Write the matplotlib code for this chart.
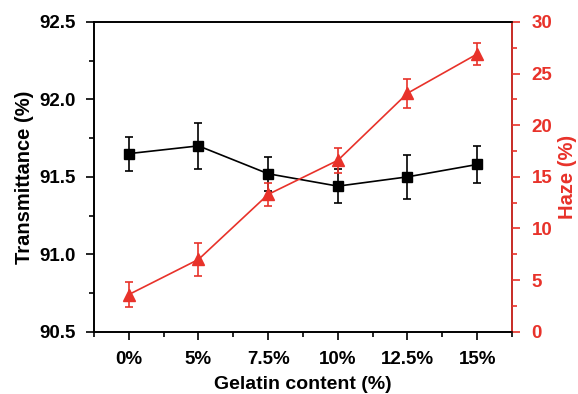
import matplotlib
matplotlib.use("Agg")
import matplotlib.pyplot as plt
from matplotlib.ticker import MultipleLocator

plt.rcParams['font.family'] = ['Liberation Sans', 'DejaVu Sans']
plt.rcParams['font.weight'] = 'bold'

categories = ['0%', '5%', '7.5%', '10%', '12.5%', '15%']
transmittance = [91.65, 91.70, 91.52, 91.44, 91.50, 91.58]
trans_err = [0.11, 0.15, 0.11, 0.11, 0.14, 0.12]
haze = [3.6, 7.0, 13.3, 16.6, 23.1, 26.9]
haze_err = [1.2, 1.6, 1.15, 1.2, 1.4, 1.1]

red = '#e8322a'
x = list(range(len(categories)))

fig = plt.figure(figsize=(5.78, 3.94), dpi=100)
ax = fig.add_axes([94/578, 1-331.7/394, (512-94)/578, (331.7-22)/394])
ax2 = ax.twinx()

ax.errorbar(x, transmittance, yerr=trans_err, color='black', marker='s', markersize=6.5,
            lw=1.2, elinewidth=1.2, capsize=3, capthick=1.2, zorder=3)
ax2.errorbar(x, haze, yerr=haze_err, color=red, marker='^', markersize=9,
             lw=1.2, elinewidth=1.2, capsize=3, capthick=1.2, zorder=3)

ax.set_xlim(-0.5, 5.5)
ax.set_ylim(90.5, 92.5)
ax2.set_ylim(0, 30)
ax.set_xticks(x)
ax.set_xticklabels(categories)
ax.set_xticks([i + 0.5 for i in range(-1, 6)], minor=True)
ax.yaxis.set_major_locator(MultipleLocator(0.5))
ax.yaxis.set_minor_locator(MultipleLocator(0.25))
ax2.yaxis.set_major_locator(MultipleLocator(5))
ax2.yaxis.set_minor_locator(MultipleLocator(2.5))

for a in (ax, ax2):
    for s in a.spines.values():
        s.set_linewidth(1.2)
ax2.spines['right'].set_color(red)
ax2.spines['left'].set_color('black')

ax.tick_params(axis='both', which='major', direction='out', length=6, width=1.2,
               labelsize=13.5, pad=7)
ax.tick_params(axis='both', which='minor', direction='out', length=3.5, width=1.2)
ax.tick_params(axis='x', which='major', pad=8)
ax2.tick_params(axis='y', which='major', direction='out', length=6, width=1.2,
                labelsize=13.5, colors=red, pad=8)
ax2.tick_params(axis='y', which='minor', direction='out', length=3.5, width=1.2, colors=red)
for lab in ax.get_xticklabels() + ax.get_yticklabels() + ax2.get_yticklabels():
    lab.set_fontweight('bold')

ax.set_xlabel('Gelatin content (%)', fontsize=14, fontweight='bold', labelpad=6)
ax.set_ylabel('Transmittance (%)', fontsize=14.5, fontweight='bold', labelpad=4)
ax2.set_ylabel('Haze (%)', fontsize=14.5, fontweight='bold', color=red, labelpad=4)

fig.savefig('out.png', dpi=100)
